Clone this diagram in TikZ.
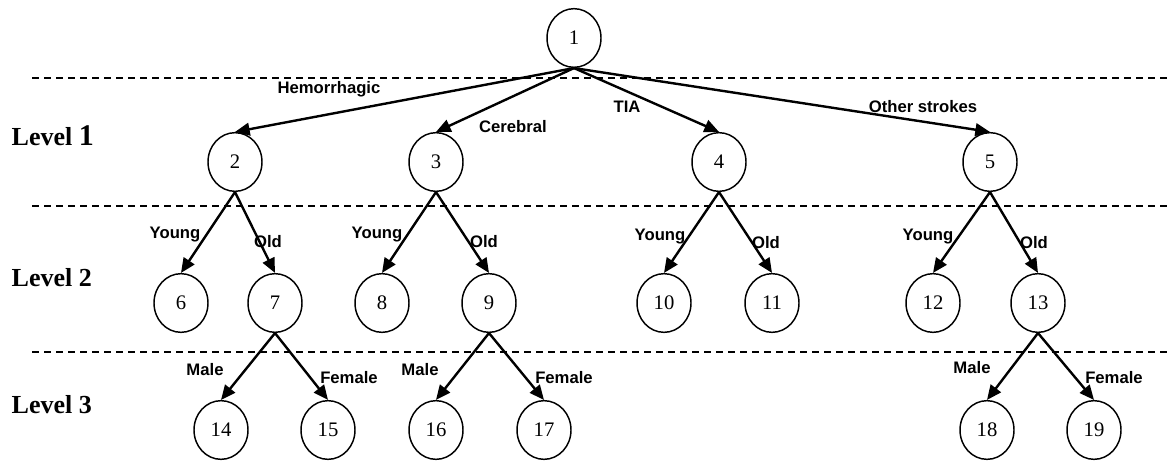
\documentclass[tikz,border=0pt]{standalone}
\usepackage{fontspec}
\setmainfont{Liberation Serif}
\newfontfamily\labelfont{Liberation Sans}
\usetikzlibrary{arrows.meta,shapes.geometric}

\begin{document}
\begin{tikzpicture}[x=0.75pt,y=-0.75pt]

        \useasboundingbox (0,0) rectangle (1167,461);

        % level separators
        \begin{scope}[line width=1.1pt, dash pattern=on 5.5pt off 3.5pt]
          \draw (32,78)  -- (1167,78);
          \draw (32,206) -- (1167,206);
          \draw (32,352) -- (1167,352);
        \end{scope}

        \begin{scope}[every node/.style={font=\bfseries\fontsize{19.5}{20}\selectfont}]
          \node[anchor=base west] (lev1) at (7,145) {Level \fontsize{22.5}{23}\selectfont 1};
          \node[anchor=base west] (lev2) at (7,286) {Level 2};
          \node[anchor=base west] (lev3) at (7,413) {Level 3};
        \end{scope}

        \begin{scope}[every node/.style={ellipse, draw, line width=1.1pt, inner sep=0pt,
            minimum width=40.5pt, minimum height=44pt, font=\fontsize{15.5}{15}\selectfont}]
          \node (1)  at (574,38)  {1};
          \node (2)  at (235,162) {2};
          \node (3)  at (436,162) {3};
          \node (4)  at (719,162) {4};
          \node (5)  at (990,162) {5};
          \node (6)  at (181,303) {6};
          \node (7)  at (275,303) {7};
          \node (8)  at (382,303) {8};
          \node (9)  at (489,303) {9};
          \node (10) at (664,303) {10};
          \node (11) at (772,303) {11};
          \node (12) at (933,303) {12};
          \node (13) at (1038,303) {13};
          \node (14) at (221,430) {14};
          \node (15) at (328,430) {15};
          \node (16) at (436,430) {16};
          \node (17) at (544,430) {17};
          \node (18) at (987,430) {18};
          \node (19) at (1094,430) {19};
        \end{scope}

        \begin{scope}[every edge/.style={draw, line width=1.8pt, -{Triangle[length=11pt,width=9.5pt]}}]
          \path (1.south)  edge (2.north);
          \path (1.south)  edge (3.north);
          \path (1.south)  edge (4.north);
          \path (1.south)  edge (5.north);
          \path (2.south)  edge (6.north);
          \path (2.south)  edge (7.north);
          \path (3.south)  edge (8.north);
          \path (3.south)  edge (9.north);
          \path (4.south)  edge (10.north);
          \path (4.south)  edge (11.north);
          \path (5.south)  edge (12.north);
          \path (5.south)  edge (13.north);
          \path (7.south)  edge (14.north);
          \path (7.south)  edge (15.north);
          \path (9.south)  edge (16.north);
          \path (9.south)  edge (17.north);
          \path (13.south) edge (18.north);
          \path (13.south) edge (19.north);
        \end{scope}

        \begin{scope}[every node/.style={font=\labelfont\bfseries\fontsize{12.5}{12}\selectfont, inner sep=0pt}]
          \node (hemo)   at (329,89)  {Hemorrhagic};
          \node (cereb)  at (513,127) {Cerebral};
          \node (tia)    at (627,107) {TIA};
          \node (other)  at (923,107) {Other strokes};
          \node (young2) at (175,235) {Young};
          \node (old2)   at (268,242) {Old};
          \node (young3) at (377,235) {Young};
          \node (old3)   at (484,242) {Old};
          \node (young4) at (660,237) {Young};
          \node (old4)   at (766,243) {Old};
          \node (young5) at (928,237) {Young};
          \node (old5)   at (1034,243) {Old};
          \node (male7)  at (205,370) {Male};
          \node (fem7)   at (349,378) {Female};
          \node (male9)  at (420,370) {Male};
          \node (fem9)   at (564,378) {Female};
          \node (male13) at (972,368) {Male};
          \node (fem13)  at (1114,378) {Female};
        \end{scope}

      \end{tikzpicture}
\end{document}
